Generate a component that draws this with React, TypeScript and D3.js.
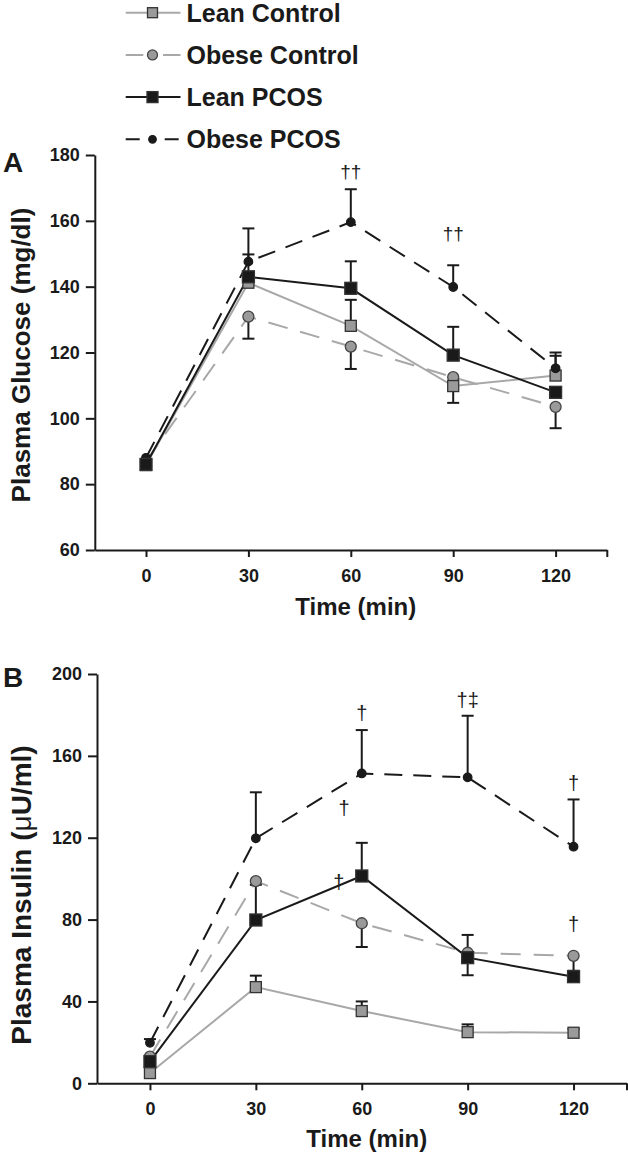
import React, { useEffect, useRef } from 'react';
import * as d3 from 'd3';

// sampling times (min)
const TIMES = [0, 30, 60, 90, 120];
const X_TICKS = [0, 30, 60, 90, 120, 135];

const SERIES = ['Lean Control', 'Obese Control', 'Lean PCOS', 'Obese PCOS'];

// panel A: plasma glucose (mg/dl)
const GLU_LEAN_CTRL = [85.8, 141.2, 128.1, 109.8, 113];
const GLU_OBESE_CTRL = [87, 130.9, 121.8, 112.5, 103.5];
const GLU_LEAN_PCOS = [86, 143, 139.5, 119.2, 107.9];
const GLU_OBESE_PCOS = [88, 147.6, 159.6, 139.9, 115.2];
// error bar end points (one-sided)
const GLU_LEAN_CTRL_ERR = [null, null, 136, null, 119];
const GLU_OBESE_CTRL_ERR = [null, 124.2, 115, 104.7, 97];
const GLU_LEAN_PCOS_ERR = [null, 149.8, 147.7, 127.8, null];
const GLU_OBESE_PCOS_ERR = [null, 157.7, 169.6, 146.5, 120];
const GLU_TICKS = [60, 80, 100, 120, 140, 160, 180];
const GLU_MARKS = [
  { t: 60, v: 173, label: '††' },
  { t: 90, v: 154.2, label: '††' },
];

// panel B: plasma insulin (µU/ml)
const INS_LEAN_CTRL = [5, 47, 35.3, 25, 24.7];
const INS_OBESE_CTRL = [13, 98.8, 78.2, 63.8, 62.3];
const INS_LEAN_PCOS = [10.6, 79.8, 101.3, 61.4, 52.1];
const INS_OBESE_PCOS = [19.8, 119.7, 151.4, 149.5, 115.6];
const INS_LEAN_CTRL_ERR = [null, 52.6, 40, 28.8, 26.5];
const INS_OBESE_CTRL_ERR = [null, null, 66.6, 52.8, 55];
const INS_LEAN_PCOS_ERR = [null, 97, 117.5, 72.5, null];
const INS_OBESE_PCOS_ERR = [21.6, 142.2, 172.6, 179.6, 138.7];
const INS_TICKS = [0, 40, 80, 120, 160, 200];
const INS_MARKS = [
  { t: 60, v: 177.5, label: '†' },
  { t: 90, v: 183.9, label: '†‡' },
  { t: 120, v: 143.3, label: '†' },
  { t: 55, v: 131.1, label: '†' },
  { t: 53.5, v: 95, label: '†' },
  { t: 120, v: 74.5, label: '†' },
];

const INK = '#1a1a1a';
const GREY_LINE = '#a8a8a8';
const GREY_FILL = '#9a9a9a';
const FONT = "'Liberation Sans', Arial, Helvetica, sans-serif";

const STYLE: Record<string, any> = {
  'Lean Control': { stroke: GREY_LINE, fill: GREY_FILL, shape: 'square', size: 11, dash: null, legendDash: null },
  'Obese Control': { stroke: GREY_LINE, fill: GREY_FILL, shape: 'circle', size: 11, dash: '20,13', legendDash: '17.6,19.7' },
  'Lean PCOS': { stroke: INK, fill: INK, shape: 'square', size: 12, dash: null, legendDash: null },
  'Obese PCOS': { stroke: INK, fill: INK, shape: 'circle', size: 8.5, dash: '18,11', legendDash: '14,25' },
};

const drawMarker = (g: any, shape: string, cx: number, cy: number, size: number, fill: string) => {
  if (shape === 'square') {
    g.append('rect')
      .attr('x', cx - size / 2).attr('y', cy - size / 2)
      .attr('width', size).attr('height', size)
      .attr('fill', fill).attr('stroke', '#333').attr('stroke-width', 1.3);
  } else {
    g.append('circle')
      .attr('cx', cx).attr('cy', cy).attr('r', size / 2)
      .attr('fill', fill).attr('stroke', fill === INK ? INK : '#444').attr('stroke-width', 1.3);
  }
};

const App = () => {
  const svgRef = useRef<SVGSVGElement>(null);

  useEffect(() => {
    const svg = d3.select(svgRef.current);
    svg.selectAll('*').remove();

    // legend
    const legend = svg.append('g');
    SERIES.forEach((name, i) => {
      const st = STYLE[name];
      const ly = 12.7 + i * 42.2;
      legend.append('line')
        .attr('x1', 125.7).attr('x2', 180.5).attr('y1', ly).attr('y2', ly)
        .attr('stroke', st.stroke).attr('stroke-width', 2)
        .attr('stroke-dasharray', st.legendDash);
      drawMarker(legend, st.shape, 152.5, ly, st.size - 1, st.fill);
      legend.append('text')
        .attr('x', 186.5).attr('y', ly + 9)
        .attr('font-family', FONT).attr('font-weight', 'bold').attr('font-size', 25)
        .attr('fill', INK).text(name);
    });

    const panels = [
      {
        letter: 'A', letterY: 172,
        x: d3.scaleLinear().domain([-15, 135]).range([94.8, 606.8]),
        y: d3.scaleLinear().domain([60, 180]).range([550, 155]),
        ticks: GLU_TICKS,
        data: [GLU_OBESE_CTRL, GLU_LEAN_CTRL, GLU_OBESE_PCOS, GLU_LEAN_PCOS],
        err: [GLU_OBESE_CTRL_ERR, GLU_LEAN_CTRL_ERR, GLU_OBESE_PCOS_ERR, GLU_LEAN_PCOS_ERR],
        marks: GLU_MARKS, markSize: 19,
        yLabel: ['Plasma Glucose (mg/dl)'], yLabelX: 30, yLabelSize: 26, yLabelCenter: 355,
        xLabelY: 615,
      },
      {
        letter: 'B', letterY: 687,
        x: d3.scaleLinear().domain([-15, 135]).range([97, 626.5]),
        y: d3.scaleLinear().domain([0, 200]).range([1083.3, 674]),
        ticks: INS_TICKS,
        data: [INS_OBESE_CTRL, INS_LEAN_CTRL, INS_OBESE_PCOS, INS_LEAN_PCOS],
        err: [INS_OBESE_CTRL_ERR, INS_LEAN_CTRL_ERR, INS_OBESE_PCOS_ERR, INS_LEAN_PCOS_ERR],
        marks: INS_MARKS, markSize: 20,
        yLabel: ['Plasma Insulin (', 'μ', 'U/ml)'], yLabelX: 31, yLabelSize: 28, yLabelCenter: 895,
        xLabelY: 1147,
      },
    ];
    const order = ['Obese Control', 'Lean Control', 'Obese PCOS', 'Lean PCOS'];

    panels.forEach((p) => {
      const g = svg.append('g');
      const [x0, x1] = p.x.range();
      const [yBottom] = p.y.range();

      // axes
      const gy = g.append('g').attr('transform', `translate(${x0},0)`)
        .call(d3.axisLeft(p.y).tickValues(p.ticks).tickSize(9).tickPadding(6).tickSizeOuter(0));
      const gx = g.append('g').attr('transform', `translate(0,${yBottom})`)
        .call(d3.axisBottom(p.x).tickValues(X_TICKS)
          .tickFormat((d: any) => (d === 135 ? '' : String(d)))
          .tickSize(7).tickPadding(12).tickSizeOuter(0));
      [gy, gx].forEach((ax) => {
        ax.attr('font-family', FONT).attr('font-size', 18).attr('font-weight', 'bold');
        ax.select('.domain').attr('stroke', INK).attr('stroke-width', 2);
        ax.selectAll('.tick line').attr('stroke', INK).attr('stroke-width', 2);
        ax.selectAll('.tick text').attr('fill', INK);
      });

      // lines
      const line = d3.line<number>().x((_, i) => p.x(TIMES[i])).y((d) => p.y(d));
      order.forEach((name, si) => {
        const st = STYLE[name];
        g.append('path').attr('d', line(p.data[si]))
          .attr('fill', 'none').attr('stroke', st.stroke).attr('stroke-width', 2)
          .attr('stroke-dasharray', st.dash);
      });

      // error bars
      order.forEach((_, si) => {
        p.err[si].forEach((e: number | null, i: number) => {
          if (e == null) return;
          const cx = p.x(TIMES[i]);
          g.append('line').attr('x1', cx).attr('x2', cx)
            .attr('y1', p.y(p.data[si][i])).attr('y2', p.y(e))
            .attr('stroke', INK).attr('stroke-width', 2);
          g.append('line').attr('x1', cx - 6).attr('x2', cx + 6)
            .attr('y1', p.y(e)).attr('y2', p.y(e))
            .attr('stroke', INK).attr('stroke-width', 2);
        });
      });

      // markers
      order.forEach((name, si) => {
        const st = STYLE[name];
        p.data[si].forEach((v: number, i: number) => {
          drawMarker(g, st.shape, p.x(TIMES[i]), p.y(v), st.size, st.fill);
        });
      });

      // significance marks
      p.marks.forEach((m) => {
        g.append('text').attr('x', p.x(m.t)).attr('y', p.y(m.v))
          .attr('text-anchor', 'middle').attr('font-family', FONT)
          .attr('font-size', p.markSize).attr('fill', INK).text(m.label);
      });

      // labels
      g.append('text').attr('x', 3).attr('y', p.letterY)
        .attr('font-family', FONT).attr('font-weight', 'bold').attr('font-size', 28)
        .attr('fill', INK).text(p.letter);
      const yl = g.append('text')
        .attr('transform', `translate(${p.yLabelX},${p.yLabelCenter}) rotate(-90)`)
        .attr('text-anchor', 'middle').attr('font-family', FONT).attr('font-weight', 'bold')
        .attr('font-size', p.yLabelSize).attr('fill', INK);
      p.yLabel.forEach((part, i) => {
        yl.append('tspan').attr('font-weight', part === 'μ' ? 'normal' : 'bold').text(part);
      });
      g.append('text').attr('x', (x0 + x1) / 2 + 5).attr('y', p.xLabelY)
        .attr('text-anchor', 'middle').attr('font-family', FONT).attr('font-weight', 'bold')
        .attr('font-size', 24).attr('fill', INK).text('Time (min)');
    });
  }, []);

  return (
    <svg
      ref={svgRef}
      width={628}
      height={1157}
      style={{ position: 'absolute', left: 0, top: 0, background: '#fff' }}
    />
  );
};

export default App;
